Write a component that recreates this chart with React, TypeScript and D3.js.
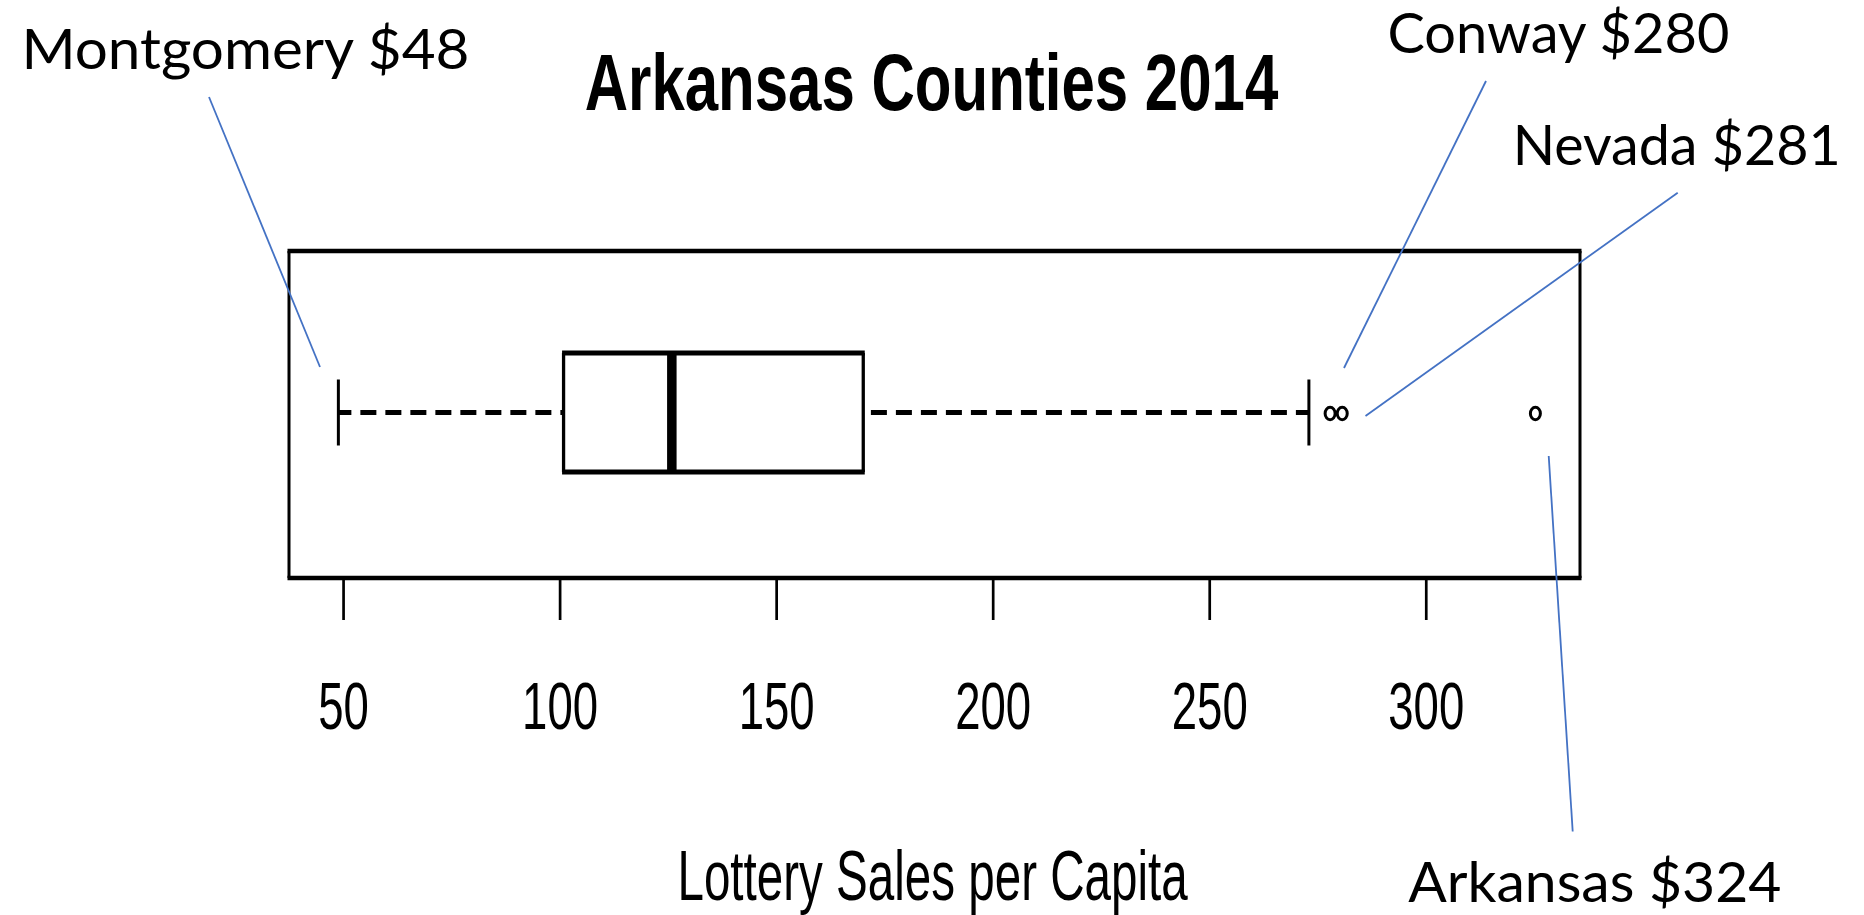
import React from "react";
import * as d3 from "d3";

// ---- data ----
const boxStats = [48.8, 100.8, 125.8, 170.0, 272.9]; // lower whisker, Q1, median, Q3, upper whisker
const outlierNames = ["Conway", "Nevada", "Arkansas"];
const outlierValues = [277.8, 280.6, 325.2];
const tickValues = [50, 100, 150, 200, 250, 300];
const titleText = "Arkansas Counties 2014";
const axisTitle = "Lottery Sales per Capita";
const calloutTexts = ["Montgomery $48", "Conway $280", "Nevada $281", "Arkansas $324"];

// ---- layout ----
const W = 1864;
const H = 915;
const plotL = 289, plotR = 1580, plotT = 251, plotB = 578;
const cy = 412.5;
const boxHalf = 59.5;
const capHalf = 33;
const blue = "#4472C4";

// callout layout: text left x, baseline y, width, leader line (x1,y1)-(x2,y2)
const callouts = [
  { x: 21.4, y: 68.5, w: 448, l: [209, 97, 320, 367] },
  { x: 1387.4, y: 53, w: 342, l: [1486, 81, 1344, 368] },
  { x: 1512.7, y: 165, w: 328, l: [1677.7, 192.7, 1365.5, 416] },
  { x: 1408.3, y: 902, w: 373, l: [1548.7, 456, 1572.7, 831.5] },
];

export default function App() {
  const x = d3.scaleLinear().domain([37.4, 335.5]).range([plotL, plotR]);
  const [lo, q1, med, q3, hi] = boxStats;
  const rFont = "'Liberation Sans', Arial, sans-serif";

  return (
    <svg
      width={W}
      height={H}
      viewBox={`0 0 ${W} ${H}`}
      style={{ position: "absolute", left: 0, top: 0, background: "#fff" }}
    >
      <rect x={0} y={0} width={W} height={H} fill="#fff" />

      {/* title */}
      <text
        transform={`translate(${931.5},110) scale(0.75,1)`}
        textAnchor="middle"
        fontFamily={rFont}
        fontWeight="bold"
        fontSize={80}
        fill="#000"
      >
        {titleText}
      </text>

      {/* plot frame */}
      <g stroke="#000" fill="none">
        <line x1={plotL - 1.5} x2={plotR + 1.5} y1={plotT} y2={plotT} strokeWidth={4.3} />
        <line x1={plotL - 1.5} x2={plotR + 1.5} y1={plotB} y2={plotB} strokeWidth={4.3} />
        <line x1={plotL} x2={plotL} y1={plotT} y2={plotB} strokeWidth={3} />
        <line x1={plotR} x2={plotR} y1={plotT} y2={plotB} strokeWidth={3} />
      </g>

      {/* whiskers */}
      <g stroke="#000" fill="none">
        <line
          x1={x(lo)} x2={x(q1)} y1={cy} y2={cy}
          strokeWidth={4.8} strokeDasharray="16 9" strokeDashoffset={3}
        />
        <line
          x1={x(hi)} x2={x(q3)} y1={cy} y2={cy}
          strokeWidth={4.8} strokeDasharray="16 9" strokeDashoffset={3}
        />
        <line x1={x(lo)} x2={x(lo)} y1={cy - capHalf} y2={cy + capHalf} strokeWidth={3} />
        <line x1={x(hi)} x2={x(hi)} y1={cy - capHalf} y2={cy + capHalf} strokeWidth={3} />
      </g>

      {/* box */}
      <g stroke="#000" fill="none">
        <line x1={x(q1) - 1.5} x2={x(q3) + 1.5} y1={cy - boxHalf} y2={cy - boxHalf} strokeWidth={4.8} />
        <line x1={x(q1) - 1.5} x2={x(q3) + 1.5} y1={cy + boxHalf} y2={cy + boxHalf} strokeWidth={4.8} />
        <line x1={x(q1)} x2={x(q1)} y1={cy - boxHalf} y2={cy + boxHalf} strokeWidth={3.3} />
        <line x1={x(q3)} x2={x(q3)} y1={cy - boxHalf} y2={cy + boxHalf} strokeWidth={3.3} />
        <line x1={x(med)} x2={x(med)} y1={cy - boxHalf} y2={cy + boxHalf} strokeWidth={9.5} />
      </g>

      {/* outliers */}
      <g stroke="#000" fill="none" strokeWidth={3}>
        {outlierValues.map((v, i) => (
          <ellipse key={outlierNames[i]} cx={x(v)} cy={cy + 1} rx={5} ry={6.2} />
        ))}
      </g>

      {/* x axis */}
      <g>
        {tickValues.map((t) => (
          <g key={t}>
            <line x1={x(t)} x2={x(t)} y1={plotB + 2} y2={620} stroke="#000" strokeWidth={2.7} />
            <text
              transform={`translate(${x(t)},729) scale(0.68,1)`}
              textAnchor="middle"
              fontFamily={rFont}
              fontSize={67}
              fill="#000"
            >
              {t}
            </text>
          </g>
        ))}
      </g>

      {/* axis title */}
      <text
        transform={`translate(${932.6},899.5) scale(0.67,1)`}
        textAnchor="middle"
        fontFamily={rFont}
        fontSize={71}
        fill="#000"
      >
        {axisTitle}
      </text>

      {/* callouts */}
      {callouts.map((c, i) => (
        <g key={i}>
          <line x1={c.l[0]} y1={c.l[1]} x2={c.l[2]} y2={c.l[3]} stroke={blue} strokeWidth={1.8} />
          <text
            x={c.x}
            y={c.y}
            fontFamily="Lato, 'Open Sans', sans-serif"
            fontSize={57}
            textLength={c.w}
            lengthAdjust="spacingAndGlyphs"
            fill="#000"
          >
            {calloutTexts[i]}
          </text>
        </g>
      ))}
    </svg>
  );
}
